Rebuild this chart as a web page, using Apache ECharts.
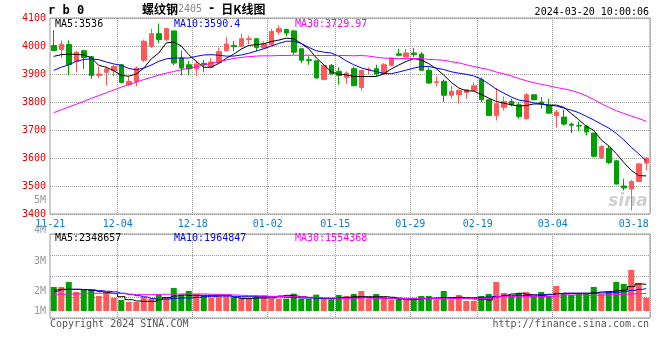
<!DOCTYPE html>
<html><head><meta charset="utf-8">
<script src="https://cdn.jsdelivr.net/npm/echarts@6/dist/echarts.min.js"></script>
<style>html,body{margin:0;padding:0;background:#fff}#c{width:660px;height:360px}</style>
</head><body><div id="c"></div>
<script>
// ---------- data ----------
const dates = ['11-21','11-22','11-23','11-24','11-27','11-28','11-29','11-30','12-01',
'12-04','12-05','12-06','12-07','12-08','12-11','12-12','12-13','12-14','12-15',
'12-18','12-19','12-20','12-21','12-22','12-25','12-26','12-27','12-28','12-29',
'01-02','01-03','01-04','01-05','01-08','01-09','01-10','01-11','01-12',
'01-15','01-16','01-17','01-18','01-19','01-22','01-23','01-24','01-25','01-26',
'01-29','01-30','01-31','02-01','02-02','02-05','02-06','02-07','02-08',
'02-19','02-20','02-21','02-22','02-23','02-26','02-27','02-28','02-29','03-01',
'03-04','03-05','03-06','03-07','03-08','03-11','03-12','03-13','03-14','03-15',
'03-18','03-19','03-20'];
const openP  = [4002,3987,4005,3945,3983,3962,3895,3906,3912,3933,3862,3873,3949,3999,4044,4023,4054,3957,3933,3918,3938,3924,3940,
3983,4002,3999,4023,4026,3993,4005,4050,4059,4054,3990,3951,3947,3880,3931,3909,3888,3919,3852,3916,3919,3900,3931,3972,3961,3975,3971,3913,3870,
3874,3824,3826,3834,3841,3880,3808,3752,3781,3802,3790,3740,3826,3800,3788,3752,3746,3721,3716,3713,3689,3602,3635,3590,3500,3489,3516,3582];
const closeP = [3984,4005,3933,3978,3959,3895,3900,3918,3927,3870,3874,3921,4017,4044,4023,4062,3939,3921,3918,3936,3933,3943,3980,
4007,3998,4026,4026,3995,4007,4052,4062,4046,3978,3949,3948,3886,3931,3900,3895,3903,3858,3913,3918,3900,3933,3957,3967,3975,3969,3913,3868,3872,
3824,3838,3841,3844,3858,3808,3752,3794,3802,3790,3748,3826,3808,3793,3760,3764,3721,3717,3714,3693,3606,3641,3584,3507,3493,3516,3579,3600];
const lowP   = [3984,3957,3895,3906,3918,3883,3885,3859,3892,3866,3856,3856,3943,3993,4011,4017,3931,3895,3895,3892,3906,3924,3935,
3981,3981,3999,4007,3981,3990,4000,4041,4035,3969,3939,3933,3883,3880,3898,3862,3864,3856,3840,3900,3892,3898,3927,3963,3961,3960,3912,3864,3856,
3800,3812,3794,3812,3838,3800,3750,3734,3769,3784,3740,3737,3806,3776,3760,3709,3716,3689,3695,3681,3602,3596,3578,3505,3484,3413,3514,3556];
const highP  = [4056,4020,4020,3983,3987,3964,3927,3927,3933,3935,3892,3927,4023,4062,4080,4065,4054,3983,3947,3947,3950,3957,3995,
4032,4017,4044,4037,4028,4017,4062,4074,4062,4056,3992,3963,3948,3936,3936,3924,3909,3927,3915,3924,3933,3939,3959,3990,3990,3993,3978,3924,3892,
3880,3858,3844,3847,3870,3888,3810,3850,3820,3812,3800,3832,3828,3818,3812,3772,3772,3727,3731,3719,3690,3645,3645,3592,3526,3522,3582,3602];
const ma5  = [3963,3969,3971,3970,3968,3958,3931,3924,3912,3895,3892,3900,3921,3954,3975,4011,4014,4000,3969,3945,3924,3924,3938,
3956,3971,3989,4002,4005,4008,4016,4021,4028,4026,4009,3990,3958,3933,3908,3899,3897,3891,3891,3891,3891,3901,3918,3932,3945,3955,3950,3937,3919,
3896,3870,3850,3840,3839,3827,3814,3802,3796,3790,3786,3787,3793,3793,3789,3789,3781,3759,3737,3713,3699,3665,3643,3616,3584,3556,3537,3536];
const ma10 = [3913,3924,3933,3945,3952,3954,3951,3943,3936,3931,3920,3915,3921,3932,3945,3954,3957,3957,3957,3963,3968,3969,3967,
3964,3964,3968,3974,3982,3990,4000,4009,4017,4017,4009,3995,3983,3978,3975,3964,3947,3933,3922,3914,3909,3902,3901,3907,3914,3921,3927,3927,3921,
3916,3908,3903,3899,3893,3882,3865,3846,3832,3818,3807,3803,3797,3793,3788,3786,3778,3771,3762,3749,3736,3721,3707,3688,3665,3638,3615,3590];
const ma30 = [3762,3772,3782,3792,3802,3813,3823,3833,3843,3853,3862,3871,3880,3888,3896,3903,3909,3915,3921,3926,3932,3938,3943,
3950,3956,3959,3962,3964,3965,3965,3966,3966,3967,3967,3967,3966,3966,3966,3966,3966,3965,3966,3964,3960,3957,3956,3955,3955,3955,3955,3952,3951,
3949,3944,3940,3933,3927,3921,3916,3907,3901,3893,3884,3876,3869,3863,3858,3852,3847,3841,3833,3822,3809,3794,3781,3769,3759,3750,3741,3731];
// volume, in millions
const volumeM = [2.12,2.12,2.56,1.68,1.91,1.91,1.32,1.68,1.15,0.97,0.79,0.79,1.21,1.09,1.44,1.21,2.03,1.44,1.76,1.50,1.32,1.15,1.44,1.32,1.21,
1.15,1.09,1.38,1.38,1.09,1.09,1.09,1.53,1.09,1.09,1.44,1.09,1.03,1.41,1.32,1.50,1.76,1.06,1.50,1.26,0.97,1.21,1.03,1.03,1.32,
1.32,1.03,1.76,1.03,1.41,0.88,0.88,1.32,1.50,2.56,1.59,1.32,1.59,1.68,1.32,1.68,1.32,2.21,1.50,1.41,1.50,1.50,2.12,1.50,1.68,
2.56,2.38,3.62,2.47,1.15];
const volMa5M = [1.85,1.91,1.91,1.91,1.88,1.82,1.71,1.62,1.53,1.26,1.00,0.88,0.85,0.85,1.00,1.18,1.32,1.41,1.38,1.38,
1.38,1.38,1.38,1.38,1.21,1.09,1.09,1.15,1.15,1.15,1.32,1.38,1.32,1.26,1.18,1.15,1.09,1.09,
1.15,1.21,1.26,1.26,1.26,1.26,1.26,1.21,1.06,1.00,1.03,1.09,1.12,1.15,1.15,1.18,1.21,1.15,1.06,1.03,
0.97,1.26,1.38,1.50,1.56,1.47,1.41,1.38,1.44,1.53,1.56,1.56,1.56,1.56,1.62,1.68,1.71,1.79,1.85,2.15,2.38,2.35];
const volMa10M = [1.71,1.88,1.91,1.91,1.88,1.85,1.79,1.74,1.68,1.56,1.47,1.35,1.24,1.09,1.03,1.06,1.12,1.15,1.15,1.21,
1.26,1.29,1.32,1.32,1.29,1.26,1.26,1.26,1.26,1.26,1.24,1.21,1.18,1.15,1.15,1.12,1.12,1.09,
1.12,1.15,1.18,1.21,1.18,1.15,1.12,1.12,1.09,1.09,1.09,1.09,1.09,1.09,1.12,1.12,1.15,1.15,1.18,1.21,
1.24,1.26,1.38,1.38,1.38,1.38,1.41,1.44,1.47,1.53,1.56,1.56,1.56,1.56,1.56,1.59,1.62,1.65,1.74,1.82,1.91,1.97];
const volMa30M = [1.47,1.47,1.50,1.50,1.53,1.56,1.56,1.56,1.56,1.53,1.47,1.44,1.44,1.44,1.47,1.47,1.50,1.50,1.50,1.50,
1.50,1.47,1.44,1.44,1.41,1.38,1.35,1.32,1.32,1.29,1.29,1.26,1.26,1.24,1.21,1.18,1.15,1.15,
1.09,1.12,1.12,1.15,1.12,1.12,1.09,1.09,1.09,1.09,1.09,1.09,1.09,1.09,1.09,1.09,1.09,1.09,1.09,1.09,
1.09,1.26,1.26,1.26,1.26,1.26,1.26,1.29,1.29,1.32,1.44,1.41,1.41,1.38,1.38,1.41,1.44,1.44,1.47,1.50,1.53,1.55];
const dateTicks = ['11-21','12-04','12-18','01-02','01-15','01-29','02-19','03-04','03-18'];
const volTickLabels = ['5M','4M','3M','2M','1M'];
const priceLegend = ['MA5:3536','MA10:3590.4','MA30:3729.97'];
const volLegend = ['MA5:2348657','MA10:1964847','MA30:1554368'];

// ---------- style ----------
const MONO = '"DejaVu Sans Mono", monospace';
const RED = '#ff5a5a', GREEN = '#00a000';
const LINE_COLORS = ['#000000', '#0000ff', '#ff00ff'];
const GRID_L = 50, GRID_W = 600;
const MAIN_TOP = 18, MAIN_H = 196;
const VOL_TOP = 234, VOL_H = 84;
const XLAB = '#0a7bd1';

const tickSet = new Set(dateTicks);
const firstTick = dateTicks[0], lastTick = dateTicks[dateTicks.length - 1];
const splitFn = (i, v) => tickSet.has(v) && v !== firstTick && v !== lastTick;
const dotted = { color: '#999', type: [1, 1], width: 1 };

const candles = dates.map((d, i) => [openP[i], closeP[i], lowP[i], highP[i]]);
const volBars = volumeM.map((v, i) => ({
  value: v,
  itemStyle: { color: closeP[i] >= openP[i] ? RED : GREEN }
}));

function txt(x, y, text, fill, font, align) {
  return { type: 'text', x, y, z: 100, silent: true,
    style: { text, fill, font, align: align || 'left', textAlign: align || 'left',
             verticalAlign: 'middle', textVerticalAlign: 'middle' } };
}
const legendX = [55, 174, 295];
const graphics = [
  txt(48, 11, 'r b 0', '#000', 'bold 12px ' + MONO),
  { type: 'text', x: 142, y: 9, z: 100, silent: true,
    style: { text: '{a|螺纹钢}{b|2405}{c|-}{a|日K线图}', verticalAlign: 'middle', textVerticalAlign: 'middle',
      rich: { a: { font: 'bold 12px "Noto Sans CJK SC"', fill: '#000' },
              b: { font: '10px ' + MONO, fill: '#888' },
              c: { font: 'bold 12px ' + MONO, fill: '#000', padding: [0, 6, 0, 6] } } } },
  txt(649, 12, '2024-03-20 10:00:06', '#000', '10px ' + MONO, 'right'),
  txt(50, 324, 'Copyright 2024 SINA.COM', '#555', '10px ' + MONO),
  txt(649, 324, 'http://finance.sina.com.cn', '#555', '10px ' + MONO, 'right'),
  txt(628, 202, 'sina', 'rgba(170,170,170,0.55)', 'italic bold 17px "DejaVu Sans"', 'center')
];
priceLegend.forEach((t, k) => graphics.push(txt(legendX[k], 24, t, LINE_COLORS[k], '10px ' + MONO)));
volLegend.forEach((t, k) => graphics.push(txt(legendX[k], 238, t, LINE_COLORS[k], '10px ' + MONO)));
volTickLabels.forEach((t, k) => graphics.push(txt(46, Math.min(200 + k * 30.5, 311), t, '#999', '10px ' + MONO, 'right')));

function maLine(name, data, xi, color, step) {
  return { name, type: 'line', xAxisIndex: xi, yAxisIndex: xi, data, symbol: 'none', silent: true,
    step: step || false, lineStyle: { color, width: 1 }, z: 5 };
}

const chart = echarts.init(document.getElementById('c'), null, { renderer: 'canvas' });
chart.setOption({
  animation: false,
  backgroundColor: '#fff',
  grid: [
    { left: GRID_L, top: MAIN_TOP, width: GRID_W, height: MAIN_H, show: true, borderColor: '#999', borderWidth: 1 },
    { left: GRID_L, top: VOL_TOP, width: GRID_W, height: VOL_H, show: true, borderColor: '#999', borderWidth: 1 }
  ],
  xAxis: [
    { type: 'category', gridIndex: 0, data: dates, boundaryGap: true,
      axisLine: { show: false }, axisTick: { show: false },
      axisLabel: { interval: (i, v) => tickSet.has(v), margin: 5, color: XLAB, fontFamily: MONO, fontSize: 10,
        lineHeight: 10, hideOverlap: false,
        formatter: v => v === lastTick ? '{e|' + v + '}' : '{n|' + v + '}',
        rich: { n: { padding: [0, 7, 0, 0], color: XLAB, fontFamily: MONO, fontSize: 10, lineHeight: 10 },
                e: { padding: [0, 0, 0, 5], color: XLAB, fontFamily: MONO, fontSize: 10, lineHeight: 10 } } },
      splitLine: { show: true, interval: splitFn, lineStyle: dotted } },
    { type: 'category', gridIndex: 1, data: dates, boundaryGap: true,
      axisLine: { show: false }, axisTick: { show: false }, axisLabel: { show: false },
      splitLine: { show: true, interval: splitFn, lineStyle: dotted } }
  ],
  yAxis: [
    { type: 'value', gridIndex: 0, min: 3400, max: 4100, interval: 100, scale: true,
      axisLine: { show: false }, axisTick: { show: false },
      axisLabel: { color: '#e60000', fontFamily: MONO, fontSize: 10, lineHeight: 10, margin: 4, formatter: v => String(v) },
      splitLine: { show: true, lineStyle: dotted } },
    { type: 'value', gridIndex: 1, min: -0.617, max: 6.783, interval: 1.85,
      axisLine: { show: false }, axisTick: { show: false }, axisLabel: { show: false },
      splitLine: { show: true, lineStyle: dotted } }
  ],
  series: [
    { type: 'candlestick', xAxisIndex: 0, yAxisIndex: 0, data: candles, barWidth: 5, silent: true,
      itemStyle: { color: RED, color0: GREEN, borderColor: RED, borderColor0: GREEN, borderWidth: 1 } },
    maLine('MA5', ma5, 0, LINE_COLORS[0]),
    maLine('MA10', ma10, 0, LINE_COLORS[1]),
    maLine('MA30', ma30, 0, LINE_COLORS[2]),
    { type: 'bar', xAxisIndex: 1, yAxisIndex: 1, data: volBars, barWidth: 6, silent: true },
    maLine('VMA5', volMa5M, 1, LINE_COLORS[0], 'middle'),
    maLine('VMA10', volMa10M, 1, LINE_COLORS[1], 'middle'),
    maLine('VMA30', volMa30M, 1, LINE_COLORS[2], 'middle')
  ],
  graphic: graphics
});
</script>
</body></html>
